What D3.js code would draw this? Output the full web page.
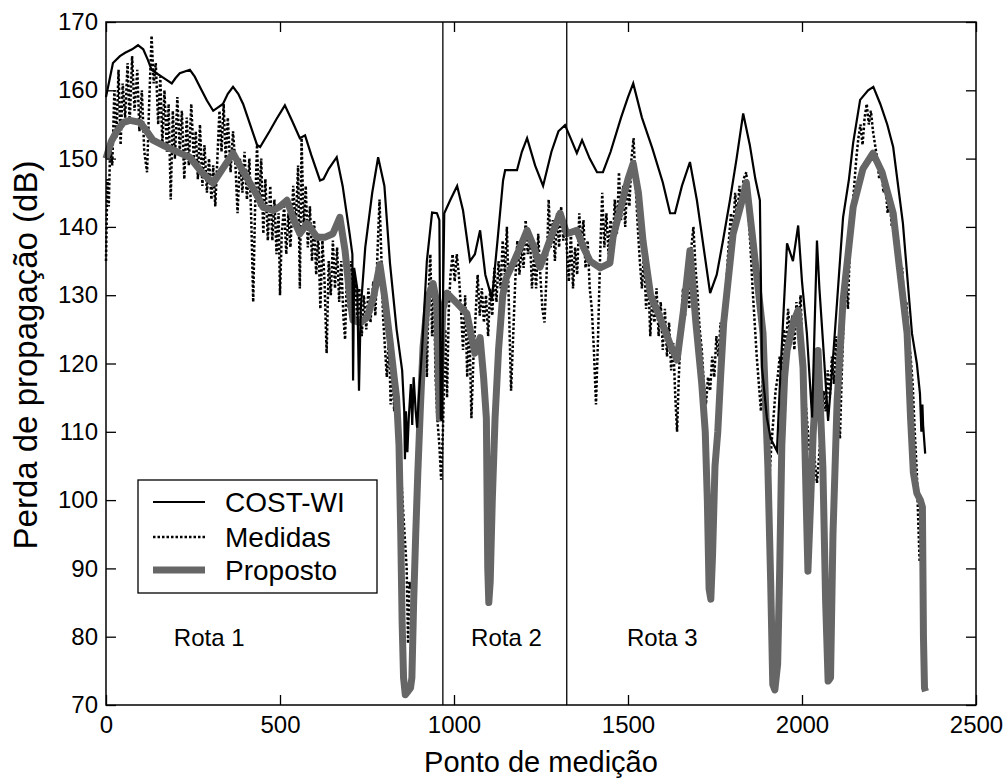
<!DOCTYPE html>
<html>
<head>
<meta charset="utf-8">
<script src="https://cdn.jsdelivr.net/npm/d3@7"></script>
<style>
  body { margin: 0; background: #fff; }
  svg { display: block; font-family: Arial, "Liberation Sans", sans-serif; }
</style>
</head>
<body>
<div id="chart"></div>
<script>
// Axis ticks
const xTicks = [0, 500, 1000, 1500, 2000, 2500];
const yTicks = [70, 80, 90, 100, 110, 120, 130, 140, 150, 160, 170];

// Route limits (vertical lines) and route labels
const routeBounds = [968, 1324];
const routeLabels = ["Rota 1", "Rota 2", "Rota 3"];
const routeLabelX = [195, 1049, 1497];
const routeLabelY = 78.7;

// Series names (legend order)
const seriesNames = ["COST-WI", "Medidas", "Proposto"];

// COST-WI model, [ponto, perda dB]
const costWI = [[0,159],[10,161.5],[20,164],[40,165],[55,165.5],[75,166],[92,166.6],[107,166],[120,164.5],[131,163],[145,162.5],[160,162],[175,161.5],[189,161],[200,161.8],[212,162.5],[241,163],[255,162],[270,160.5],[290,158.5],[308,157],[322,157.5],[336,158],[350,159.5],[365,160.5],[380,159.5],[394,158],[414,155],[434,152],[443,151.7],[470,154],[490,155.8],[514,157.8],[535,155.5],[557,153],[572,153.4],[590,150.5],[615,146.8],[625,147],[640,148.5],[663,150.2],[680,146],[700,139],[708,136],[710,117.5],[713,134],[722,131],[727,116],[732,128],[745,137],[765,145],[782,150.2],[800,146],[816,134.7],[835,125],[851,119],[857,113],[859,106],[862,113],[866,107],[870,112],[876,117],[880,111],[884,118],[890,113],[894,110.6],[900,116],[908,121.9],[922,135],[937,142.1],[951,142],[958,141],[962,112],[965,111.6],[968,128],[972,142],[990,144],[1009,146],[1026,142.4],[1046,135],[1060,136],[1075,139.5],[1090,133],[1109,129.5],[1125,138],[1141,146.8],[1147,148.3],[1181,148.3],[1195,151],[1210,153],[1233,149],[1256,146],[1280,151],[1300,154],[1319,154.9],[1335,153],[1353,150.8],[1368,152.7],[1390,150],[1411,148],[1428,148],[1450,151],[1480,156],[1500,159],[1515,161],[1540,156],[1570,151.5],[1600,146.5],[1621,142],[1635,142],[1655,146],[1678,149.5],[1698,143.9],[1720,136],[1736,130.3],[1755,133],[1773,138],[1793,143.9],[1812,150],[1831,156.6],[1850,152],[1866,147],[1879,143.9],[1885,119.4],[1899,112.1],[1910,109],[1928,107.2],[1937,117.5],[1957,137.6],[1974,135],[1989,140.2],[2000,132],[2014,124.4],[2029,112.1],[2043,138],[2050,131],[2060,123.4],[2075,111.6],[2088,120],[2101,129.2],[2118,141.4],[2135,147],[2147,152.3],[2167,158.6],[2190,160],[2205,160.5],[2225,158],[2245,155],[2262,151.7],[2290,140.5],[2316,124.4],[2330,120],[2339,115.6],[2343,110],[2346,114],[2348,111],[2354,106.8]];

// Measured values
const medidas = [[0,135],[4,147],[8,143],[12,152],[18,149],[24,160],[30,153],[36,163],[42,152],[48,161],[55,156],[62,164],[68,155],[75,165],[82,157],[90,163],[96,154],[103,160],[110,151],[118,148],[124,158],[131,168],[137,161],[143,164],[150,155],[156,162],[162,152],[168,160],[175,151],[180,158],[186,144],[192,157],[198,150],[205,159],[212,151],[218,157],[225,147],[232,156],[238,149],[245,158],[252,150],[258,154],[264,147],[270,155],[277,146],[283,152],[290,145],[296,150],[303,144],[308,149],[314,143],[320,150],[326,157],[332,151],[338,158],[344,150],[350,156],[358,148],[365,154],[372,149],[378,142],[385,150],[392,145],[398,151],[405,144],[412,150],[418,140],[423,129],[428,142],[434,152],[440,143],[446,150],[452,139],[458,147],[465,138],[472,146],[478,138],[484,144],[490,136],[496,142],[500,130],[505,139],[512,143],[518,136],[524,142],[530,137],[538,146],[545,140],[552,149],[557,131],[562,153],[568,140],[574,146],[580,137],[586,143],[592,135],[598,141],[604,133],[610,139],[616,128],[622,138],[628,132],[634,121.5],[640,135],[646,130],[652,138],[658,131],[664,137],[670,129],[676,135],[682,127],[687,123.5],[692,133],[698,128],[704,135],[710,128],[716,132],[722,126],[728,131],[735,124],[741,130],[748,125],[754,131],[760,126],[768,132],[774,127],[780,136],[786,144],[791,136],[796,127],[802,122],[807,118],[813,124],[818,114],[823,120],[828,113],[834,117],[840,110],[846,106],[852,100],[858,95],[864,90],[868,79],[872,88],[876,87],[882,89],[888,95],[894,103],[900,112],[906,118],[912,122],[918,128],[922,118],[927,130],[932,136],[937,124],[942,132],[947,118],[952,112],[958,108],[963,103],[968,110],
  [975,125],[980,115],[985,128],[990,133],[996,136],[1002,132],[1008,136],[1014,133],[1020,128],[1026,122],[1032,130],[1038,118],[1044,126],[1050,112],[1056,121],[1062,127],[1068,133],[1074,127],[1080,131],[1086,126],[1092,130],[1098,124],[1104,131],[1110,127],[1116,134],[1122,129],[1128,135],[1134,131],[1140,138],[1146,133],[1152,140],[1158,128],[1164,116],[1170,124],[1176,132],[1182,138],[1188,133],[1194,137],[1200,134],[1206,141],[1212,136],[1218,139],[1224,131],[1230,136],[1236,131],[1242,139],[1248,133],[1254,128],[1260,126],[1266,133],[1272,144],[1278,137],[1284,141],[1290,135],[1296,142],[1302,137],[1308,143],[1314,138],[1320,141],[1324,137],
  [1330,132],[1336,139],[1342,131],[1348,137],[1354,133],[1360,142],[1366,137],[1372,141],[1378,134],[1384,138],[1390,131],[1396,128],[1402,122],[1408,114],[1414,124],[1420,136],[1426,145],[1432,137],[1438,142],[1444,136],[1450,141],[1456,137],[1462,144],[1468,139],[1474,148],[1480,141],[1486,146],[1492,140],[1498,147],[1504,143],[1510,150],[1516,153],[1522,146],[1528,140],[1534,135],[1540,131],[1546,136],[1552,128],[1558,133],[1564,124],[1570,130],[1576,126],[1582,131],[1588,124],[1594,129],[1600,122],[1606,128],[1612,121],[1618,126],[1624,119],[1630,123],[1636,115],[1641,110],[1646,118],[1652,125],[1658,131],[1664,127],[1670,133],[1676,128],[1682,137],[1688,140],[1694,134],[1700,130],[1706,125],[1712,122],[1718,117],[1724,114],[1730,118],[1736,116],[1742,121],[1748,118],[1754,124],[1760,121],[1766,126],[1772,120],[1778,128],[1784,133],[1790,138],[1796,142],[1802,139],[1808,145],[1814,141],[1820,146],[1826,143],[1832,147],[1840,148],[1846,142],[1852,137],[1858,131],[1864,126],[1870,121],[1876,117],[1882,113],[1888,118],[1894,110],[1900,106],[1906,103],[1912,108],[1918,112],[1924,116],[1930,118],[1936,121],[1942,119],[1948,125],[1954,122],[1960,128],[1966,124],[1972,127],[1978,122],[1984,129],[1990,126],[1996,130],[2002,120],[2008,116],[2014,112],[2020,108],[2026,106],[2032,109],[2038,105],[2043,102.5],[2050,107],[2056,111],[2062,116],[2068,113],[2074,119],[2080,115],[2086,121],[2092,117],[2098,124],[2104,112],[2109,109],[2114,118],[2120,127],[2126,133],[2132,128],[2138,138],[2144,142],[2150,146],[2156,150],[2162,153],[2168,155],[2174,152],[2180,156],[2186,158],[2192,155],[2198,157],[2204,154],[2210,152],[2216,150],[2222,147],[2228,149],[2234,145],[2240,146],[2246,142],[2252,144],[2258,140],[2264,141],[2270,137],[2276,138],[2282,133],[2288,134],[2294,128],[2300,129],[2306,124],[2312,121],[2318,117],[2324,110],[2330,104],[2334,97],[2338,91]];

// Proposed model
const proposto = [[0,150],[15,152.5],[31,154],[50,155.3],[69,155.6],[98,155.3],[120,153.8],[135,152.7],[170,151.8],[213,150.8],[241,150.2],[275,148],[308,146.4],[335,148.5],[365,150.8],[390,148.5],[414,146.4],[435,144.5],[451,142.9],[480,142.4],[500,143],[520,143.9],[540,141],[557,139],[578,140.5],[606,138.5],[630,138.5],[652,139],[672,141.4],[687,136.5],[700,130],[710,126.3],[730,126],[750,126.7],[770,130],[787,134.5],[800,130],[816,123.4],[828,118],[835,115],[842,108],[847,95],[851,82],[855,74],[860,71.5],[868,72],[875,72.5],[879,74],[884,85],[890,95],[896,104],[903,113],[911,122.4],[925,129.7],[940,131.7],[950,129],[955,118],[958,112],[962,120],[968,128],[980,130.3],[1009,128.8],[1037,127.3],[1060,121.5],[1075,123.8],[1085,118],[1093,112],[1097,90],[1100,85],[1104,88],[1110,100],[1118,112],[1128,122],[1140,130],[1150,132.5],[1170,134.7],[1190,137],[1210,139.5],[1230,137],[1247,134.1],[1275,138],[1305,142],[1324,139],[1353,139.5],[1372,137],[1391,135],[1420,134],[1448,134.7],[1457,138.5],[1480,143],[1500,147],[1515,149.3],[1530,145],[1543,138],[1565,130],[1592,126.7],[1620,123],[1641,120.5],[1660,128],[1678,136.5],[1695,126],[1712,117],[1722,110],[1728,100],[1733,87],[1738,85.5],[1743,92],[1750,105],[1758,110],[1766,118],[1775,126],[1802,139],[1828,143.9],[1840,146.5],[1859,138],[1888,124.4],[1902,104.8],[1910,88],[1916,73],[1922,72.2],[1930,76],[1936,90],[1942,108],[1950,118],[1957,121.9],[1975,126],[1989,127.8],[2003,119.4],[2012,100],[2017,89.6],[2025,100],[2032,109.7],[2046,121.9],[2060,104.8],[2068,85],[2075,73.5],[2082,74],[2089,95],[2101,114.6],[2118,129.2],[2147,142.9],[2175,148.5],[2204,150.8],[2230,148],[2262,142],[2280,134],[2302,124.4],[2312,112],[2320,104],[2330,101],[2340,100],[2346,99],[2349,80],[2352,72.5],[2355,72]];

/* Dimensions and margins */
const width = 1006, height = 783;
const margins = {top: 22, right: 30, bottom: 78, left: 106};

const svg = d3.select("#chart")
    .append("svg")
    .attr("width", width)
    .attr("height", height);

/* Scales */
const xScale = d3.scaleLinear()
    .domain([0, 2500])
    .range([margins.left, width - margins.right]);
const yScale = d3.scaleLinear()
    .domain([70, 170])
    .range([height - margins.bottom, margins.top]);

const line = d3.line()
    .x(d => xScale(d[0]))
    .y(d => yScale(d[1]));

// Draw order: measured, proposed, COST-WI on top
svg.append("path")
    .datum(medidas)
    .attr("d", line)
    .attr("fill", "none")
    .attr("stroke", "#000")
    .attr("stroke-width", 2.5)
    .attr("stroke-dasharray", "2.5,2");

svg.append("path")
    .datum(proposto)
    .attr("d", line)
    .attr("fill", "none")
    .attr("stroke", "#666")
    .attr("stroke-width", 7)
    .attr("stroke-linejoin", "round");

svg.append("path")
    .datum(costWI)
    .attr("d", line)
    .attr("fill", "none")
    .attr("stroke", "#000")
    .attr("stroke-width", 2.2);

// Route separators
svg.selectAll("line.route")
    .data(routeBounds)
    .join("line")
    .attr("class", "route")
    .attr("x1", d => xScale(d))
    .attr("x2", d => xScale(d))
    .attr("y1", yScale(170))
    .attr("y2", yScale(70))
    .attr("stroke", "#000")
    .attr("stroke-width", 1.3);

svg.selectAll("text.rota")
    .data(routeLabels)
    .join("text")
    .attr("class", "rota")
    .attr("x", (d, i) => xScale(routeLabelX[i]))
    .attr("y", yScale(routeLabelY))
    .style("font-size", "24px")
    .text(d => d);

/* Axes, ticks pointing inward on all four sides */
const xGroup = svg.append("g")
    .attr("transform", `translate(0,${height - margins.bottom})`)
    .call(d3.axisBottom(xScale).tickValues(xTicks).tickFormat(d3.format("d"))
        .tickSizeInner(-10).tickSizeOuter(0).tickPadding(11));
const yGroup = svg.append("g")
    .attr("transform", `translate(${margins.left},0)`)
    .call(d3.axisLeft(yScale).tickValues(yTicks).tickSizeInner(-10).tickSizeOuter(0).tickPadding(8));
const topGroup = svg.append("g")
    .attr("transform", `translate(0,${margins.top})`)
    .call(d3.axisTop(xScale).tickValues(xTicks).tickSizeInner(-10).tickSizeOuter(0).tickFormat(""));
const rightGroup = svg.append("g")
    .attr("transform", `translate(${width - margins.right},0)`)
    .call(d3.axisRight(yScale).tickValues(yTicks).tickSizeInner(-10).tickSizeOuter(0).tickFormat(""));

[xGroup, yGroup, topGroup, rightGroup].forEach(g => {
    g.select(".domain").remove();
    g.selectAll("line").attr("stroke", "#000").attr("stroke-width", 1.3);
    g.selectAll("text")
        .attr("fill", "#000")
        .style("font-size", "24px")
        .style("font-family", "Arial, 'Liberation Sans', sans-serif");
});

// Box around the plot
svg.append("rect")
    .attr("x", xScale(0))
    .attr("y", yScale(170))
    .attr("width", xScale(2500) - xScale(0))
    .attr("height", yScale(70) - yScale(170))
    .attr("fill", "none")
    .attr("stroke", "#000")
    .attr("stroke-width", 1.5);

/* Axis titles */
svg.append("text")
    .attr("x", (xScale(0) + xScale(2500)) / 2)
    .attr("y", 772)
    .attr("text-anchor", "middle")
    .style("font-size", "29px")
    .text("Ponto de medição");

svg.append("text")
    .attr("transform", "rotate(-90)")
    .attr("x", -355)
    .attr("y", 37)
    .attr("text-anchor", "middle")
    .style("font-size", "33px")
    .text("Perda de propagação (dB)");

/* Legend */
const legend = svg.append("g").attr("transform", "translate(138,480)");
legend.append("rect")
    .attr("width", 239)
    .attr("height", 113)
    .attr("fill", "#fff")
    .attr("stroke", "#000")
    .attr("stroke-width", 1.3);

const legendStyle = [
    {stroke: "#000", w: 2.2, dash: null},
    {stroke: "#000", w: 2.5, dash: "2.5,2"},
    {stroke: "#666", w: 7, dash: null}
];
const rowY = [22, 57, 90];

legend.selectAll("line.sample")
    .data(seriesNames)
    .join("line")
    .attr("class", "sample")
    .attr("x1", 15)
    .attr("x2", 67)
    .attr("y1", (d, i) => rowY[i])
    .attr("y2", (d, i) => rowY[i])
    .attr("stroke", (d, i) => legendStyle[i].stroke)
    .attr("stroke-width", (d, i) => legendStyle[i].w)
    .attr("stroke-dasharray", (d, i) => legendStyle[i].dash);

legend.selectAll("text")
    .data(seriesNames)
    .join("text")
    .attr("x", 87)
    .attr("y", (d, i) => rowY[i])
    .attr("dy", "0.35em")
    .style("font-size", "28px")
    .text(d => d);
</script>
</body>
</html>
